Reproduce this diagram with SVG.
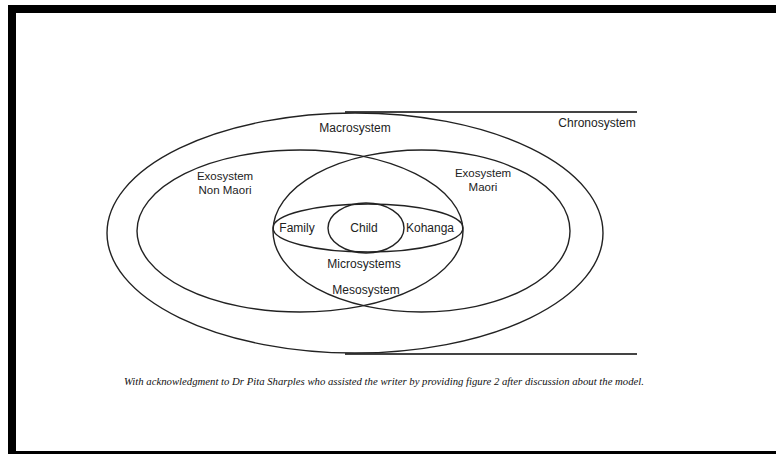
<svg xmlns="http://www.w3.org/2000/svg" width="776" height="454" viewBox="0 0 776 454">
<style>
.ring{fill:none;stroke:#222;stroke-width:1.4}
.lbl{font-family:"Liberation Sans",Arial,sans-serif;font-size:12px;fill:#222;text-anchor:middle}
.sm{font-size:11.5px}
.cap{font-family:"Liberation Serif","Times New Roman",serif;font-style:italic;font-size:10.5px;fill:#111}
.chrono{stroke:#444;stroke-width:2}
</style>
<rect width="776" height="454" fill="#fff"/>
<g id="frame" fill="#000">
<rect x="8" y="5" width="768" height="8"/>
<rect x="8" y="5" width="8" height="449"/>
<rect x="8" y="451" width="768" height="3"/>
</g>
<g id="chronosystem">
<line class="chrono" x1="345" y1="112" x2="637" y2="112"/>
<line class="chrono" x1="345" y1="354" x2="637" y2="354"/>
<text class="lbl" x="597" y="127">Chronosystem</text>
</g>
<g id="macrosystem">
<ellipse class="ring" cx="355" cy="233" rx="248" ry="120"/>
<text class="lbl" x="355" y="132">Macrosystem</text>
</g>
<g id="exosystem-non-maori">
<ellipse class="ring" cx="300" cy="231" rx="163" ry="81"/>
<text class="lbl sm" x="225" y="180">Exosystem</text>
<text class="lbl sm" x="225" y="193.5">Non Maori</text>
</g>
<g id="exosystem-maori">
<ellipse class="ring" cx="421.5" cy="231" rx="148.5" ry="81"/>
<text class="lbl sm" x="483" y="177">Exosystem</text>
<text class="lbl sm" x="483" y="190.5">Maori</text>
</g>
<g id="microsystems">
<ellipse class="ring" cx="368" cy="228" rx="95" ry="24"/>
<text class="lbl" x="297" y="232">Family</text>
<text class="lbl" x="430" y="232">Kohanga</text>
<text class="lbl" x="364" y="268">Microsystems</text>
</g>
<g id="child">
<ellipse class="ring" cx="366" cy="228" rx="38" ry="25"/>
<text class="lbl" x="364" y="232">Child</text>
</g>
<g id="mesosystem">
<text class="lbl" x="366" y="294">Mesosystem</text>
</g>
<g id="connectors"></g>
<text class="cap" x="124" y="385" textLength="520" lengthAdjust="spacingAndGlyphs">With acknowledgment to Dr Pita Sharples who assisted the writer by providing figure 2 after discussion about the model.</text>
</svg>
